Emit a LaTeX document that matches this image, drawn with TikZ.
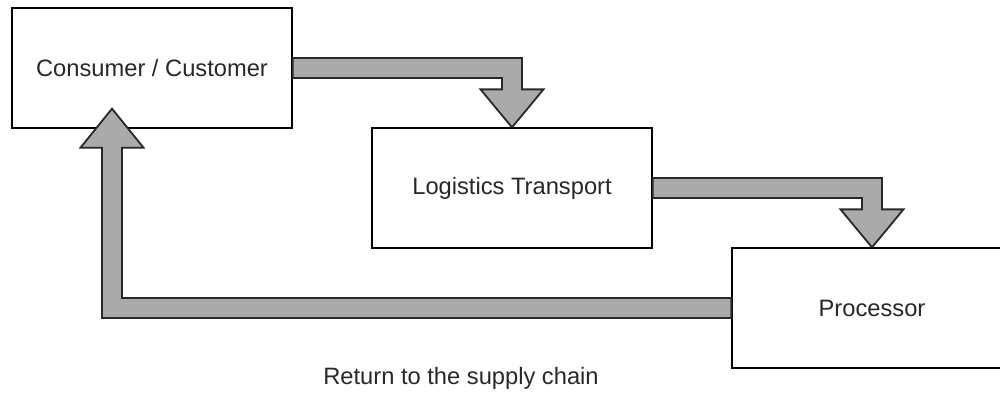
\documentclass[tikz,border=0pt]{standalone}
\usepackage{fontspec}
\setmainfont{Liberation Sans}
\usetikzlibrary{calc}
\definecolor{arrowgray}{RGB}{170,170,170}
\definecolor{inkgray}{RGB}{40,40,40}
\begin{document}
\begin{tikzpicture}[x=1pt,y=-1pt,
  stagebox/.style={draw=black, line width=1.3pt, fill=white,
    minimum width=280pt, minimum height=120pt, inner sep=0pt,
    text=inkgray, font=\fontsize{23.7}{28}\selectfont},
  flow/.style={draw=inkgray, line width=1.8pt, fill=arrowgray, line join=miter},
  caption/.style={text=inkgray, font=\fontsize{23.7}{28}\selectfont}]
\useasboundingbox (0,0) rectangle (1000,392);
\begin{scope}
\clip (0,0) rectangle (1000,392);

% stages of the chain
\node[stagebox] (cons)  at (152,68)  {Consumer / Customer};
\node[stagebox] (logis) at (512,188) {Logistics Transport};
\node[stagebox] (proc)  at (872,308) {Processor};

% consumer -> logistics
\draw[flow]
  ($(cons.east)+(0,-10)$)
  -- ($(cons.east -| logis.north)+(10,-10)$)
  -- ($(logis.north)+(10,-38)$)
  -- ($(logis.north)+(31.5,-38)$)
  -- (logis.north)
  -- ($(logis.north)+(-31.5,-38)$)
  -- ($(logis.north)+(-10,-38)$)
  -- ($(cons.east -| logis.north)+(-10,10)$)
  -- ($(cons.east)+(0,10)$)
  -- cycle;

% logistics -> processor
\draw[flow]
  ($(logis.east)+(0,-10)$)
  -- ($(logis.east -| proc.north)+(10,-10)$)
  -- ($(proc.north)+(10,-38)$)
  -- ($(proc.north)+(31.5,-38)$)
  -- (proc.north)
  -- ($(proc.north)+(-31.5,-38)$)
  -- ($(proc.north)+(-10,-38)$)
  -- ($(logis.east -| proc.north)+(-10,10)$)
  -- ($(logis.east)+(0,10)$)
  -- cycle;

% processor -> back to consumer
\coordinate (ret) at ($(cons.south)+(-40,-20)$);
\draw[flow]
  ($(proc.west)+(0,-10)$)
  -- ($(proc.west -| ret)+(10,-10)$)
  -- ($(ret)+(10,39)$)
  -- ($(ret)+(31.5,39)$)
  -- (ret)
  -- ($(ret)+(-31.5,39)$)
  -- ($(ret)+(-10,39)$)
  -- ($(proc.west -| ret)+(-10,10)$)
  -- ($(proc.west)+(0,10)$)
  -- cycle;

\node[caption] (retlabel) at (461,378) {Return to the supply chain};
\end{scope}
\end{tikzpicture}
\end{document}
